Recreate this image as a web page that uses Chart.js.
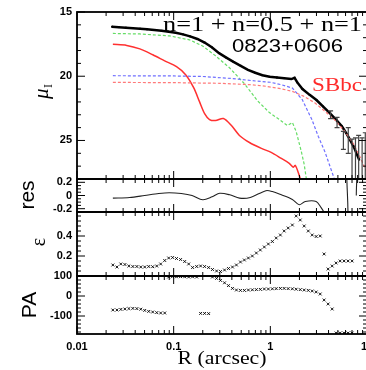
<!DOCTYPE html>
<html><head><meta charset="utf-8">
<script src="https://cdn.jsdelivr.net/npm/chart.js@4.4.0/dist/chart.umd.min.js"></script>
<style>
html,body{margin:0;padding:0;background:#fff;overflow:hidden;width:366px;height:370px}
#wrap{position:relative;width:380px;height:370px}
</style></head>
<body><div id="wrap"><canvas id="c" width="380" height="370"></canvas></div>
<script>
// ---------- data ----------
const xTicks = [0.01, 0.1, 1, 10];
const muTicks = [15, 20, 25];
const resTicks = [0.2, 0, -0.2];
const epsTicks = [0.2, 0.4];
const paTicks = [100, 0, -100];

// surface brightness profile (black)
const profR  = [0.023,0.027,0.032,0.038,0.045,0.053,0.063,0.075,0.089,0.105,0.125,0.148,0.176,0.209,0.248,0.295,0.350,0.416,0.494,0.587,0.697,0.828,0.983,1.17,1.39,1.65,1.78,1.90,2.15,2.55,3.0,3.5,4.1,4.8,5.5,6.3,7.3,8.3];
const profMu = [16.15,16.18,16.22,16.26,16.30,16.35,16.40,16.46,16.53,16.62,16.74,16.90,17.10,17.38,17.75,18.20,18.55,18.88,19.19,19.50,19.73,19.92,20.04,20.10,20.15,20.22,20.12,20.48,21.00,21.45,21.85,22.35,22.85,23.40,23.90,24.60,25.50,26.50];
// error bars on the outer profile
const errR  = [4.2, 4.9, 5.7, 6.4, 7.0, 7.6, 8.2, 8.9, 9.6];
const errLo = [22.7, 23.2, 24.3, 24.0, 24.9, 24.8, 24.6, 24.8, 24.4];
const errHi = [23.3, 24.0, 25.7, 26.0, 28.5, 28.5, 28.5, 28.5, 28.5];
// red solid
const redR  = [0.0235,0.0327,0.0447,0.0608,0.0807,0.107,0.133,0.161,0.185,0.209,0.235,0.271,0.327,0.396,0.479,0.608,0.808,1.02,1.30,1.57,1.73,1.81,1.99,2.1];
const redMu = [17.52,17.60,17.87,18.33,18.80,19.26,19.88,20.89,21.98,22.91,23.37,23.45,23.29,23.84,24.61,25.16,25.62,25.93,26.40,26.78,27.09,26.94,27.71,28.3];
// green dashed (n=0.5 component)
const greenR  = [0.0235,0.0446,0.0906,0.146,0.199,0.271,0.378,0.539,0.735,0.977,1.24,1.50,1.69,1.85,2.09,2.24,2.36];
const greenMu = [16.67,16.71,16.86,17.17,17.64,18.41,19.34,20.58,21.90,22.83,23.37,23.84,23.60,24.30,25.85,26.86,28.0];
// blue dashed
const blueR  = [0.0235,0.05,0.1,0.2,0.4,0.7,1.0,1.3,1.69,2.14,2.69,3.13,3.69,4.35,4.7];
const blueMu = [19.96,19.97,19.98,20.02,20.18,20.37,20.47,20.66,20.92,21.82,23.37,24.67,25.93,27.48,28.2];
// red dashed (disc)
const discR  = [0.0235,0.1,0.3,0.6,0.9,1.3,1.69,2.2,2.9,3.7,4.7,5.9,7.3,8.5,10];
const discMu = [20.48,20.50,20.55,20.65,20.78,20.98,21.18,21.55,22.08,22.75,23.45,24.30,25.30,26.30,27.5];
// residuals
const resR = [0.0235,0.035,0.05,0.07,0.09,0.12,0.155,0.2,0.25,0.3,0.38,0.48,0.62,0.9,1.05,1.3,1.69,1.99,2.3,2.98,3.34,3.6,4.5,6.2,6.25,7.7,7.75];
const resV = [-0.04,-0.03,0.0,0.03,0.042,0.03,0.0,-0.065,-0.02,0.033,0.01,-0.04,-0.03,0.073,0.06,0.01,-0.06,-0.14,-0.09,-0.09,-0.18,-0.26,-0.6,-0.6,0.6,0.6,0.0];
// ellipticity and position angle
const isoR = [0.0235,0.0259,0.0284,0.0313,0.0344,0.0378,0.0416,0.0457,0.0502,0.0552,0.0607,0.0668,0.0734,0.0808,0.0888,0.0976,0.107,0.118,0.130,0.143,0.157,0.173,0.190,0.209,0.230,0.252,0.278,0.305,0.336,0.369,0.406,0.446,0.491,0.539,0.593,0.652,0.717,0.788,0.867,0.954,1.05,1.15,1.27,1.39,1.53,1.69,1.85,2.04,2.24,2.47,2.71,2.98,3.28,3.60,3.96,4.36,4.79,5.27,5.79,6.37,7.01];
const epsV = [0.11,0.09,0.12,0.115,0.10,0.095,0.095,0.09,0.09,0.095,0.093,0.10,0.12,0.155,0.18,0.185,0.175,0.165,0.145,0.12,0.085,0.095,0.10,0.095,0.085,0.065,0.05,0.045,0.06,0.075,0.09,0.11,0.14,0.16,0.18,0.20,0.23,0.26,0.29,0.32,0.345,0.38,0.41,0.45,0.48,0.51,0.60,0.56,0.50,0.45,0.41,0.395,0.40,0.22,0.07,0.10,0.13,0.15,0.15,0.15,0.15];
const paV  = [-70,-70,-67,-65,-63,-62,-63,-66,-72,-77,-80,-83,-85,-85,95,97,96,97,96,95,96,95,-87,-87,-88,95,88,78,66,52,38,30,28,28,30,31,32,33,35,35,36,37,38,38,37,36,34,32,30,28,25,20,10,-20,-40,-65,-185,-185,-185,-185,-185];

// ---------- style config ----------
const minorStep = {yMu: 1, yRes: 0.05, yEps: 0.05, yPA: 20};
const majorVals = {yMu: muTicks, yRes: resTicks, yEps: epsTicks, yPA: paTicks};
const panels = ['yMu', 'yRes', 'yEps', 'yPA'];
const tickFont = {family: '"Liberation Sans", Arial, sans-serif', size: 11, weight: 'bold'};

const pts = (xs, ys) => xs.map((x, i) => ({x, y: ys[i]}));

function drawStretched(ctx, text, font, cx, cy, width, color) {
  ctx.save();
  ctx.font = font;
  const w = ctx.measureText(text).width;
  const sx = width / w;
  ctx.translate(cx, cy);
  ctx.scale(sx, 1);
  ctx.fillStyle = color;
  ctx.textAlign = 'center';
  ctx.textBaseline = 'middle';
  ctx.fillText(text, 0, 0);
  ctx.restore();
}
function drawRotated(ctx, text, font, cx, cy) {
  ctx.save();
  ctx.translate(cx, cy);
  ctx.rotate(-Math.PI / 2);
  ctx.font = font;
  ctx.fillStyle = '#000';
  ctx.textAlign = 'center';
  ctx.textBaseline = 'middle';
  ctx.fillText(text, 0, 0);
  ctx.restore();
}

const framePlugin = {
  id: 'frames',
  beforeDraw(chart) {
    const c = chart.ctx;
    c.save(); c.fillStyle = '#fff'; c.fillRect(0, 0, chart.width, chart.height); c.restore();
  },
  afterDatasetsDraw(chart) {
    const ctx = chart.ctx, xs = chart.scales.x, ym = chart.scales.yMu;
    // error bars
    ctx.save();
    ctx.beginPath(); ctx.rect(xs.left, ym.top, xs.right - xs.left, ym.bottom - ym.top); ctx.clip();
    ctx.strokeStyle = '#444'; ctx.lineWidth = 1.2;
    errR.forEach((r, i) => {
      const px = xs.getPixelForValue(r);
      const y1 = ym.getPixelForValue(errLo[i]);
      const y2 = ym.getPixelForValue(errHi[i]);
      ctx.beginPath();
      ctx.moveTo(px, y1); ctx.lineTo(px, y2);
      ctx.moveTo(px - 2.5, y1); ctx.lineTo(px + 2.5, y1);
      ctx.moveTo(px - 2.5, y2); ctx.lineTo(px + 2.5, y2);
      ctx.stroke();
    });
    ctx.restore();

    // frames and ticks
    ctx.save();
    ctx.strokeStyle = '#000';
    const xMinor = [];
    [0.01, 0.1, 1].forEach(d => { for (let m = 2; m <= 9; m++) xMinor.push(d * m); });
    panels.forEach(id => {
      const s = chart.scales[id];
      const L = xs.left, R = xs.right, T = s.top, B = s.bottom;
      ctx.lineWidth = 1;
      ctx.beginPath();
      // x ticks top/bottom
      xTicks.forEach(v => {
        const p = xs.getPixelForValue(v);
        ctx.moveTo(p, T); ctx.lineTo(p, T + 8);
        ctx.moveTo(p, B); ctx.lineTo(p, B - 8);
      });
      xMinor.forEach(v => {
        const p = xs.getPixelForValue(v);
        ctx.moveTo(p, T); ctx.lineTo(p, T + 4);
        ctx.moveTo(p, B); ctx.lineTo(p, B - 4);
      });
      // y ticks
      const st = minorStep[id];
      const n0 = Math.ceil(s.min / st - 1e-6), n1 = Math.floor(s.max / st + 1e-6);
      for (let k = n0; k <= n1; k++) {
        const v = k * st;
        const p = s.getPixelForValue(v);
        const isMaj = majorVals[id].some(m => Math.abs(m - v) < 1e-6);
        const len = isMaj ? 8 : 4;
        ctx.moveTo(L, p); ctx.lineTo(L + len, p);
        ctx.moveTo(R, p); ctx.lineTo(R - len, p);
      }
      ctx.stroke();
      ctx.lineWidth = 1.8;
      ctx.strokeRect(L, T, R - L, B - T);
    });
    ctx.restore();
  },
  afterDraw(chart) {
    const ctx = chart.ctx;
    const serif = '"Liberation Serif", "Times New Roman", serif';
    const sans = '"Liberation Sans", Arial, sans-serif';
    drawStretched(ctx, 'n=1 + n=0.5 + n=1', '22px ' + serif, 262.5, 25, 199, '#000');
    drawStretched(ctx, '0823+0606', '19px ' + sans, 287.5, 47, 111, '#000');
    drawStretched(ctx, 'SBbc', '19px ' + serif, 337, 86, 50, '#ff2a2a');
    drawStretched(ctx, 'R (arcsec)', '19px ' + serif, 222, 359, 89, '#000');
    // y titles
    ctx.save();
    ctx.translate(42, 92);
    ctx.rotate(-Math.PI / 2);
    ctx.fillStyle = '#000';
    ctx.textBaseline = 'middle';
    ctx.textAlign = 'left';
    ctx.font = 'italic 21px ' + serif;
    ctx.fillText('μ', -7, 0);
    ctx.font = '12px ' + serif;
    ctx.fillText('I', 4, 7);
    ctx.restore();
    drawRotated(ctx, 'res', '21px ' + sans, 28, 195);
    drawRotated(ctx, 'ε', '20px ' + serif, 40, 242);
    drawRotated(ctx, 'PA', '21px ' + sans, 30, 305);
  }
};

function yAxis(opts) {
  return Object.assign({
    type: 'linear', position: 'left', stack: 'panels',
    grid: {display: false, drawTicks: false},
    border: {display: false},
    afterFit: s => { s.width = 77; },
    ticks: {font: tickFont, color: '#000', padding: 5, autoSkip: false}
  }, opts);
}

new Chart(document.getElementById('c'), {
  type: 'line',
  data: {
    datasets: [
      {data: pts(discR, discMu), yAxisID: 'yMu', borderColor: '#ff7a7a', borderWidth: 1.2, borderDash: [3, 2], pointRadius: 0, tension: 0},
      {data: pts(blueR, blueMu), yAxisID: 'yMu', borderColor: '#6f6fff', borderWidth: 1.2, borderDash: [3, 2], pointRadius: 0, tension: 0},
      {data: pts(greenR, greenMu), yAxisID: 'yMu', borderColor: '#66dd66', borderWidth: 1.2, borderDash: [3, 2], pointRadius: 0, tension: 0},
      {data: pts(redR, redMu), yAxisID: 'yMu', borderColor: '#ff3030', borderWidth: 1.5, pointRadius: 0, tension: 0.3},
      {data: pts(profR, profMu), yAxisID: 'yMu', borderColor: '#000', borderWidth: 2.5, pointRadius: 1.3, pointStyle: 'rect', pointBackgroundColor: '#000', pointBorderWidth: 0, tension: 0},
      {data: pts(resR, resV), yAxisID: 'yRes', borderColor: '#222', borderWidth: 1.1, pointRadius: 0, tension: 0.3},
      {data: pts(isoR, epsV), yAxisID: 'yEps', showLine: false, pointStyle: 'crossRot', pointRadius: 2, borderColor: '#000', borderWidth: 0.9},
      {data: pts(isoR, paV), yAxisID: 'yPA', showLine: false, pointStyle: 'crossRot', pointRadius: 2, borderColor: '#000', borderWidth: 0.9}
    ]
  },
  options: {
    responsive: false, animation: false, devicePixelRatio: 1,
    plugins: {legend: {display: false}, tooltip: {enabled: false}},
    layout: {padding: {left: 0, right: 13, top: 12, bottom: 0}},
    scales: {
      x: {
        type: 'logarithmic', position: 'bottom', min: 0.01, max: 10,
        grid: {display: false, drawTicks: false}, border: {display: false},
        afterBuildTicks: s => { s.ticks = xTicks.map(v => ({value: v})); },
        afterFit: s => { s.height = 36; },
        ticks: {font: tickFont, color: '#000', padding: 6, autoSkip: false, maxRotation: 0, callback: v => String(v)}
      },
      yMu: yAxis({weight: 4, stackWeight: 167, reverse: true, min: 15, max: 28,
        afterBuildTicks: s => { s.ticks = muTicks.map(v => ({value: v})); }}),
      yRes: yAxis({weight: 3, stackWeight: 33, min: -0.25, max: 0.25,
        afterBuildTicks: s => { s.ticks = resTicks.map(v => ({value: v})); }}),
      yEps: yAxis({weight: 2, stackWeight: 64, min: 0, max: 0.64,
        afterBuildTicks: s => { s.ticks = epsTicks.map(v => ({value: v})); }}),
      yPA: yAxis({weight: 1, stackWeight: 58, min: -190, max: 100,
        afterBuildTicks: s => { s.ticks = paTicks.map(v => ({value: v})); }})
    }
  },
  plugins: [framePlugin]
});
</script></body></html>
